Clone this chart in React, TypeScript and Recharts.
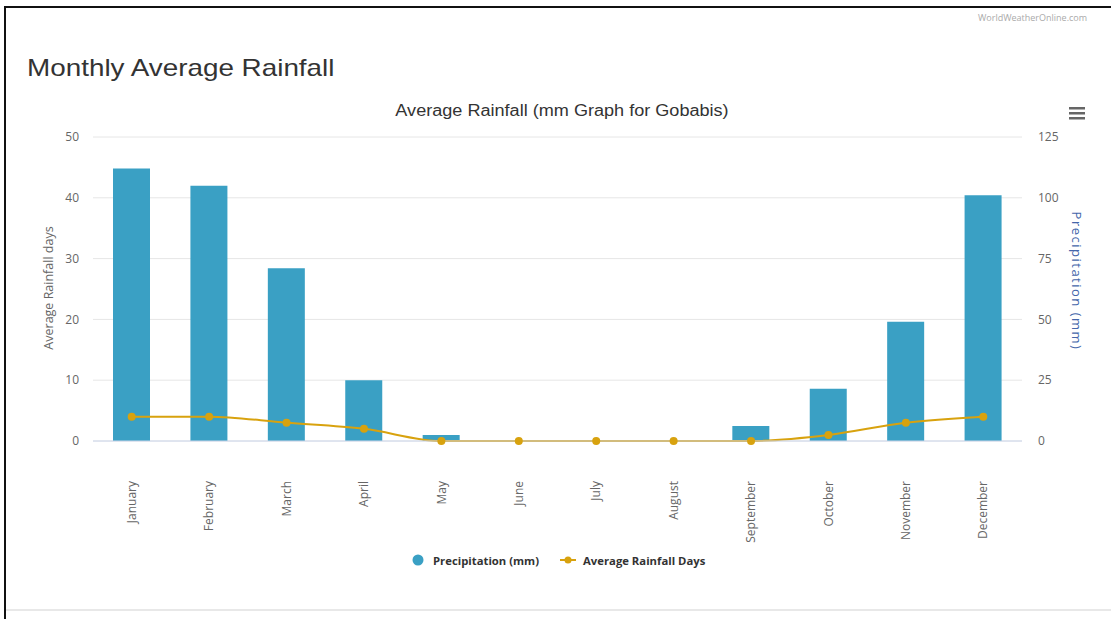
import React from "react";
import { ComposedChart, Bar, Line, XAxis, YAxis, CartesianGrid } from "recharts";

const months = ["January", "February", "March", "April", "May", "June", "July", "August", "September", "October", "November", "December"];
const precipitation = [112, 105, 71, 25, 2.5, 0, 0, 0, 6.2, 21.5, 49, 101];
const rainfallDays = [4, 4, 3, 2, 0, 0, 0, 0, 0, 1, 3, 4];
const leftTicks = [0, 10, 20, 30, 40, 50];
const rightTicks = [0, 25, 50, 75, 100, 125];

const data = months.map((m, i) => ({ month: m, precip: precipitation[i], days: rainfallDays[i] }));

const BAR = "#3aa0c4";
const LINE = "#d8a20e";
const AXIS_FONT = "'Open Sans', 'DejaVu Sans', sans-serif";
const TITLE_FONT = "'Liberation Sans', Arial, sans-serif";

const MonthTick = (props: any) => {
  const { x, y, payload } = props;
  return (
    <text
      x={0}
      y={0}
      dy="0.35em"
      transform={`translate(${x},${y + 32}) rotate(-90)`}
      textAnchor="end"
      fill="#666"
      fontSize={12}
      fontFamily={AXIS_FONT}
    >
      {payload.value}
    </text>
  );
};

export default function App() {
  return (
    <div style={{ position: "absolute", left: 0, top: 0, width: 1111, height: 619, background: "#fff", overflow: "hidden" }}>
      {/* frame */}
      <div style={{ position: "absolute", left: 4, top: 6, width: 1107, height: 2, background: "#111" }} />
      <div style={{ position: "absolute", left: 4, top: 6, width: 2, height: 613, background: "#111" }} />
      <div style={{ position: "absolute", left: 6, top: 609, width: 1105, height: 2, background: "#e8e8e8" }} />

      {/* watermark */}
      <div style={{ position: "absolute", left: 978, top: 11, fontSize: 9, color: "#aaa", fontFamily: AXIS_FONT, whiteSpace: "nowrap" }}>
        WorldWeatherOnline.com
      </div>

      {/* page title */}
      <div
        style={{
          position: "absolute",
          left: 27,
          top: 56,
          fontSize: 24,
          lineHeight: "24px",
          color: "#333",
          fontFamily: TITLE_FONT,
          whiteSpace: "nowrap",
          transform: "scaleX(1.16)",
          transformOrigin: "left center",
        }}
      >
        Monthly Average Rainfall
      </div>

      <ComposedChart
        width={1111}
        height={619}
        data={data}
        margin={{ top: 137, right: 0, bottom: 0, left: 0 }}
        style={{ position: "absolute", left: 0, top: 0 }}
      >
        <CartesianGrid yAxisId="left" vertical={false} stroke="#e6e6e6" />
        <XAxis
          dataKey="month"
          height={178}
          tick={<MonthTick />}
          tickLine={false}
          axisLine={{ stroke: "#ccd6eb" }}
          interval={0}
        />
        <YAxis
          yAxisId="left"
          orientation="left"
          width={93}
          domain={[0, 50]}
          ticks={leftTicks}
          tickLine={false}
          axisLine={false}
          tickMargin={8}
          tick={{ fill: "#666", fontSize: 12, fontFamily: AXIS_FONT }}
        />
        <YAxis
          yAxisId="right"
          orientation="right"
          width={89}
          domain={[0, 125]}
          ticks={rightTicks}
          tickLine={false}
          axisLine={false}
          tickMargin={10}
          tick={{ fill: "#666", fontSize: 12, fontFamily: AXIS_FONT, textAnchor: "start" }}
        />
        <Bar yAxisId="right" dataKey="precip" fill={BAR} barSize={37} isAnimationActive={false} />
        <Line
          yAxisId="left"
          dataKey="days"
          type="monotone"
          stroke={LINE}
          strokeWidth={2}
          dot={{ r: 4, fill: LINE, stroke: LINE, strokeWidth: 0 }}
          activeDot={false}
          isAnimationActive={false}
        />
      </ComposedChart>

      {/* chart title */}
      <div
        style={{
          position: "absolute",
          left: 562,
          top: 103,
          fontSize: 16,
          lineHeight: "16px",
          color: "#333",
          fontFamily: TITLE_FONT,
          whiteSpace: "nowrap",
          transform: "translateX(-50%) scaleX(1.13)",
          transformOrigin: "center center",
        }}
      >
        Average Rainfall (mm Graph for Gobabis)
      </div>

      {/* axis titles */}
      <div
        style={{
          position: "absolute",
          left: 48,
          top: 288,
          fontSize: 12.5,
          color: "#666",
          fontFamily: AXIS_FONT,
          whiteSpace: "nowrap",
          transform: "translate(-50%, -50%) rotate(-90deg)",
        }}
      >
        Average Rainfall days
      </div>
      <div
        style={{
          position: "absolute",
          left: 1077,
          top: 281,
          fontSize: 13,
          letterSpacing: 1.5,
          color: "#4466aa",
          fontFamily: AXIS_FONT,
          whiteSpace: "nowrap",
          transform: "translate(-50%, -50%) rotate(90deg)",
        }}
      >
        Precipitation (mm)
      </div>

      {/* menu icon */}
      <svg style={{ position: "absolute", left: 1066, top: 103 }} width={22} height={20}>
        <rect x={3} y={4} width={16} height={2.5} fill="#666" />
        <rect x={3} y={9} width={16} height={2.5} fill="#666" />
        <rect x={3} y={14} width={16} height={2.5} fill="#666" />
      </svg>

      {/* legend */}
      <div style={{ position: "absolute", left: 412, top: 551, height: 18, display: "flex", alignItems: "center", fontFamily: AXIS_FONT, fontSize: 11.3, fontWeight: 700, color: "#333", whiteSpace: "nowrap" }}>
        <svg width={14} height={14} style={{ marginRight: 7 }}>
          <circle cx={6} cy={7} r={5.5} fill={BAR} />
        </svg>
        <span>Precipitation (mm)</span>
        <svg width={18} height={14} style={{ marginLeft: 21, marginRight: 5 }}>
          <line x1={0} y1={7} x2={16} y2={7} stroke={LINE} strokeWidth={2} />
          <circle cx={8} cy={7} r={3.5} fill={LINE} />
        </svg>
        <span>Average Rainfall Days</span>
      </div>
    </div>
  );
}
